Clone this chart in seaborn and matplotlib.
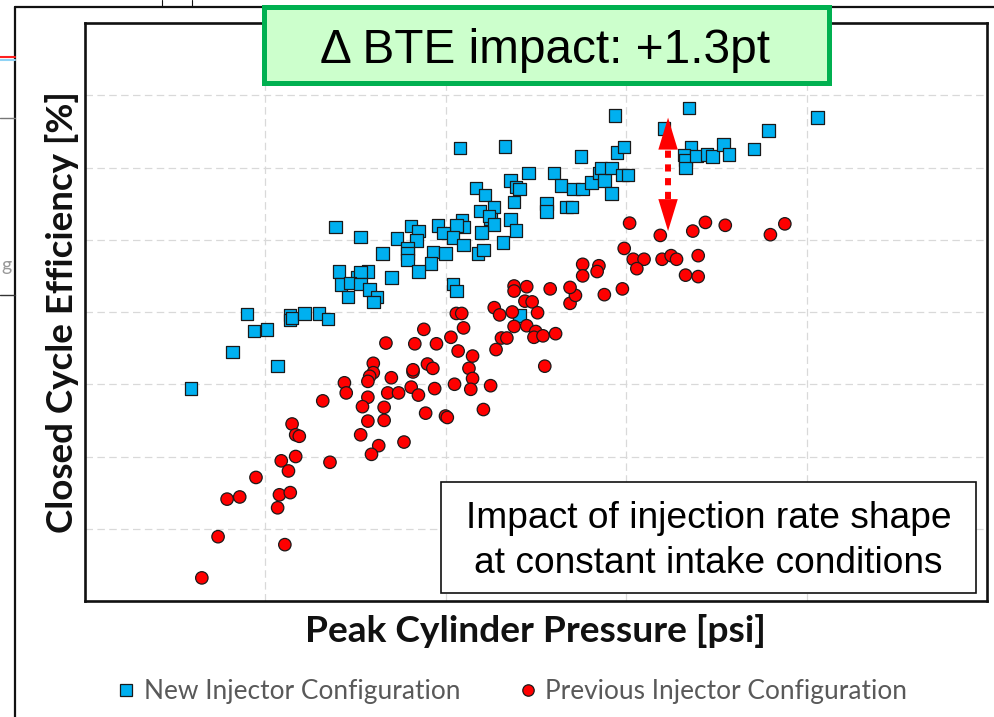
import matplotlib
matplotlib.use("Agg")
import matplotlib.pyplot as plt
import numpy as np
import pandas as pd
import seaborn as sns
from matplotlib.lines import Line2D
from matplotlib.patches import Rectangle

# ---------------- data (arbitrary units, axis range x 0-5, y 0-8) ----------------
new_x = [0.59, 0.82, 0.90, 0.94, 1.01, 1.07, 1.14, 1.14, 1.15, 1.22,
         1.30, 1.35, 1.39, 1.53, 1.73, 1.65, 1.41, 1.51, 1.57, 1.53,
         1.70, 1.42, 1.47, 1.53, 1.58, 1.62, 1.46, 1.60,
         2.08, 2.33, 2.75, 2.95, 2.99, 2.46, 2.60, 2.36, 2.39, 2.41,
         2.17, 2.22, 2.64, 2.71, 2.76, 2.81, 2.85, 2.86, 2.88, 2.92,
         2.92, 2.98, 3.01, 2.38, 2.56, 2.56, 2.67, 2.70, 2.27, 2.19,
         2.25, 2.24, 2.27, 2.36, 2.39, 2.09, 2.10, 2.06, 2.20, 1.96,
         1.99, 2.04, 2.10, 1.81, 1.85, 1.84, 1.79, 1.79, 1.79, 1.93,
         2.00, 1.92, 1.85, 2.18, 2.21, 2.32, 2.04, 2.06, 2.41,
         3.35, 4.06, 3.21, 3.79, 3.36, 3.32, 3.33, 3.33, 3.39, 3.45,
         3.48, 3.54, 3.57, 3.71, 2.94]
new_y = [2.94, 3.45, 3.97, 3.74, 3.76, 3.25, 3.96, 3.89, 3.92, 3.98,
         3.98, 3.90, 5.18, 5.04, 5.02, 4.81, 4.56, 4.48, 4.56, 4.55,
         4.48, 4.38, 4.40, 4.39, 4.31, 4.21, 4.21, 4.14,
         6.27, 6.29, 6.15, 6.21, 6.28, 5.92, 5.92, 5.82, 5.73, 5.70,
         5.72, 5.62, 5.75, 5.70, 5.70, 5.79, 5.92, 5.99, 5.82, 5.99,
         5.64, 5.90, 5.90, 5.52, 5.50, 5.39, 5.45, 5.45, 5.45, 5.40,
         5.29, 5.33, 5.21, 5.28, 5.13, 5.27, 5.18, 5.20, 5.10, 5.20,
         5.09, 5.03, 4.93, 5.19, 5.12, 4.99, 4.88, 4.81, 4.72, 4.83,
         4.81, 4.67, 4.56, 4.81, 4.86, 4.96, 4.39, 4.29, 3.95,
         6.82, 6.69, 6.54, 6.51, 6.28, 6.17, 6.10, 5.99, 6.16, 6.18,
         6.15, 6.32, 6.18, 6.26, 6.72]

prev_x = [1.67, 1.60, 1.60, 1.58, 1.57, 1.70, 1.44, 1.45, 1.57, 1.68,
          1.74, 1.32, 1.54, 1.66, 1.57, 1.66, 1.53, 1.63, 1.59, 1.77,
          1.15, 1.17, 1.19, 1.09, 1.17, 1.13, 1.36, 0.95, 0.79, 0.86,
          1.08, 1.14, 1.07, 0.74, 1.11, 0.65,
          2.06, 2.09, 2.27, 2.30, 2.37, 2.44, 2.48, 2.51, 2.69, 2.72,
          2.88, 2.38, 2.45, 2.50, 2.49, 2.54, 2.61, 2.31, 2.34, 2.28,
          2.55, 1.88, 2.10, 2.03, 1.83, 1.95, 2.07, 2.15, 1.90, 1.93,
          1.82, 1.82, 2.13, 2.15, 2.14, 2.05, 2.25, 1.81, 1.85, 1.94,
          1.89, 2.00, 2.01, 2.21,
          3.02, 2.99, 2.76, 2.85, 2.84, 2.76, 2.38, 2.38, 2.45, 2.58,
          2.69, 2.98, 3.19, 3.37, 3.44, 3.55, 3.80, 3.88, 3.04, 3.10,
          3.06, 3.20, 3.25, 3.28, 3.40, 3.33, 3.40]
prev_y = [3.57, 3.29, 3.16, 3.11, 3.04, 3.09, 3.02, 2.88, 2.82, 2.88,
          2.88, 2.77, 2.69, 2.68, 2.49, 2.50, 2.30, 2.15, 2.03, 2.20,
          2.45, 2.30, 2.28, 1.94, 2.00, 1.80, 1.92, 1.71, 1.41, 1.44,
          1.47, 1.50, 1.29, 0.89, 0.78, 0.32,
          3.98, 3.98, 4.06, 3.96, 4.00, 4.15, 4.14, 3.99, 4.12, 4.23,
          4.24, 3.80, 3.81, 3.73, 3.65, 3.67, 3.70, 3.64, 3.64, 3.48,
          3.25, 3.76, 3.78, 3.65, 3.56, 3.56, 3.46, 3.39, 3.28, 3.22,
          3.17, 3.20, 3.22, 3.08, 2.93, 3.00, 2.98, 2.96, 2.85, 2.94,
          2.60, 2.56, 2.54, 2.65,
          5.23, 4.88, 4.66, 4.64, 4.56, 4.50, 4.36, 4.29, 4.35, 4.32,
          4.34, 4.32, 5.06, 5.12, 5.24, 5.20, 5.07, 5.22, 4.73, 4.73,
          4.60, 4.73, 4.78, 4.73, 4.78, 4.51, 4.49]

series_names = ["New Injector Configuration", "Previous Injector Configuration"]
series_colors = ["#00B0F0", "#FF0000"]
x_label = "Peak Cylinder Pressure [psi]"
y_label = "Closed Cycle Efficiency [%]"
headline = "\u0394 BTE impact: +1.3pt"
note_lines = ["Impact of injection rate shape", "at constant intake conditions"]
gap_x = 3.233
gap_top = 6.69
gap_bottom = 5.12
x_grid = [1, 2, 3, 4]
y_grid = [1, 2, 3, 4, 5, 6, 7]

df = pd.DataFrame({
    "x": new_x + prev_x,
    "y": new_y + prev_y,
    "config": [series_names[0]] * len(new_x) + [series_names[1]] * len(prev_x),
})

sns.set_style("white")
plt.rcParams["font.family"] = ["Lato", "DejaVu Sans"]

W, H = 994, 717
fig = plt.figure(figsize=(W / 100, H / 100), dpi=100)


def fx(px):
    return px / W


def fy(py):
    return 1 - py / H


ax = fig.add_axes([fx(84.5), fy(601), fx(987) - fx(84.5), fy(23) - fy(601)])

sns.scatterplot(data=df, x="x", y="y", hue="config", style="config",
                palette=dict(zip(series_names, series_colors)),
                markers=dict(zip(series_names, ["s", "o"])),
                s=80, edgecolor="#1a1a1a", linewidth=0.9, legend=False,
                ax=ax, zorder=3)

ax.set_xlim(0, 5)
ax.set_ylim(0, 8)
ax.set_xticks(x_grid)
ax.set_yticks(y_grid)
ax.tick_params(length=0, labelbottom=False, labelleft=False)
ax.grid(True, color="#D9D9D9", linestyle=(0, (6, 3.5)), linewidth=0.9)
ax.set_axisbelow(True)
for sp in ax.spines.values():
    sp.set_color("#111111")
    sp.set_linewidth(1.9)

ax.set_xlabel(x_label, fontsize=26.7, fontweight="bold", color="#111111",
              labelpad=9, family=["Lato", "DejaVu Sans"])
ax.set_ylabel(y_label, fontsize=26.5, fontweight="bold", color="#111111",
              labelpad=4, family=["Lato", "DejaVu Sans"])

# dotted double arrow showing the efficiency gap
ax.plot([gap_x, gap_x], [gap_bottom + 0.45, gap_top - 0.45], color="#FF0000",
        lw=4.3, linestyle=(0, (1.2, 1.1)), solid_capstyle="butt",
        dash_capstyle="butt", zorder=5)
for tip, base in [(gap_top, gap_top - 0.46), (gap_bottom, gap_bottom + 0.46)]:
    ax.annotate("", xy=(gap_x, tip), xytext=(gap_x, base),
                arrowprops=dict(arrowstyle="-|>,head_length=2.3,head_width=0.7",
                                mutation_scale=10, color="#FF0000", lw=0,
                                shrinkA=0, shrinkB=0), zorder=6)

# legend below the plot
handles = [
    Line2D([], [], marker="s", linestyle="none", markersize=9.2,
           markerfacecolor=series_colors[0], markeredgecolor="#1a1a1a", markeredgewidth=0.9),
    Line2D([], [], marker="o", linestyle="none", markersize=8.2,
           markerfacecolor=series_colors[1], markeredgecolor="#1a1a1a", markeredgewidth=0.9),
]
leg = ax.legend(handles, series_names, loc="center", bbox_to_anchor=(fx(513), fy(692)),
                bbox_transform=fig.transFigure, ncol=2, frameon=False,
                fontsize=18.9, handlelength=0.55, handletextpad=0.4,
                columnspacing=2.3, borderpad=0)
for t in leg.get_texts():
    t.set_color("#595959")

# green headline box
fig.patches.append(Rectangle((fx(264.2), fy(83)), fx(829) - fx(264.2), fy(6.5) - fy(83),
                             transform=fig.transFigure, facecolor="#CCFFCC",
                             edgecolor="#00B050", linewidth=3.6, zorder=10))
fig.text(fx(545.3), fy(63), headline, ha="center", va="baseline", fontsize=34.4,
         family=["Liberation Sans", "DejaVu Sans"], color="#000000", zorder=11)

# note box
fig.patches.append(Rectangle((fx(441), fy(592.7)), fx(976) - fx(441), fy(482.3) - fy(592.7),
                             transform=fig.transFigure, facecolor="white",
                             edgecolor="#111111", linewidth=1.2, zorder=10))
for line, base in zip(note_lines, [528.3, 572.7]):
    fig.text(fx(708.5), fy(base), line, ha="center", va="baseline", fontsize=26.7,
             family=["Liberation Sans", "DejaVu Sans"], color="#000000", zorder=11)

# remnants of the surrounding slide (screenshot frame)
frame_kw = dict(transform=fig.transFigure, color="#111111", lw=1.6, zorder=0)
fig.add_artist(Line2D([fx(15), fx(15)], [fy(7), fy(717)], **frame_kw))
fig.add_artist(Line2D([fx(15), fx(994)], [fy(7), fy(7)], **frame_kw))
fig.add_artist(Line2D([fx(162), fx(162)], [fy(0), fy(7)], transform=fig.transFigure, color="#111111", lw=0.8))
fig.add_artist(Line2D([fx(192), fx(192)], [fy(0), fy(7)], transform=fig.transFigure, color="#111111", lw=0.8))
fig.add_artist(Line2D([0, fx(15)], [fy(57), fy(57)], transform=fig.transFigure, color="#FF2020", lw=1.5))
fig.add_artist(Line2D([0, fx(15)], [fy(60), fy(60)], transform=fig.transFigure, color="#8FD3F5", lw=1.5))
fig.add_artist(Line2D([0, fx(15)], [fy(118), fy(118)], transform=fig.transFigure, color="#777777", lw=1.0))
fig.add_artist(Line2D([0, fx(15)], [fy(295), fy(295)], transform=fig.transFigure, color="#333333", lw=1.0))
fig.text(fx(1), fy(265), "g", fontsize=14, color="#999999", va="center", ha="left")

fig.savefig("out.png", dpi=100)
